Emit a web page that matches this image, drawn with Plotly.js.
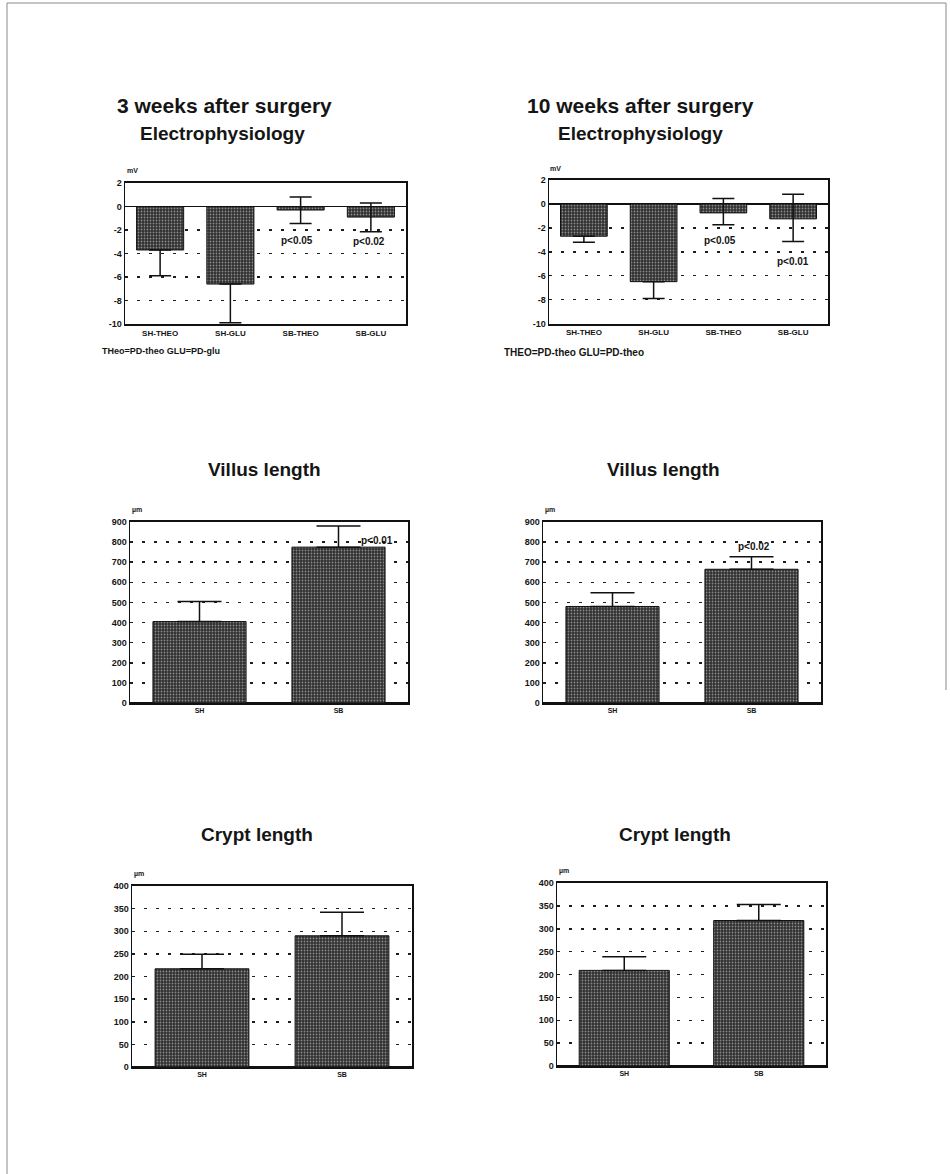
<!DOCTYPE html>
<html>
<head>
<meta charset="utf-8">
<script src="https://cdn.plot.ly/plotly-3.0.1.min.js"></script>
<style>
  html, body { margin: 0; padding: 0; background: #ffffff; }
  #chart { width: 950px; height: 1174px; }
</style>
</head>
<body>
<div id="chart"></div>
<script>
// ---- data ----
const epCategories = ['SH-THEO', 'SH-GLU', 'SB-THEO', 'SB-GLU'];
const morphCategories = ['SH', 'SB'];

// y tick values / labels for the potential difference panels (plain hyphen minus)
const epTickVals = [-10, -8, -6, -4, -2, 0, 2];
const epTickText = ['-10', '-8', '-6', '-4', '-2', '0', '2'];

// potential difference (mV), 3 weeks after surgery
const ep3Mean = [-3.7, -6.6, -0.3, -0.9];
const ep3ErrPlus = [0, 0, 1.1, 1.2];
const ep3ErrMinus = [2.2, 3.3, 1.15, 1.25];

// potential difference (mV), 10 weeks after surgery
const ep10Mean = [-2.7, -6.5, -0.75, -1.25];
const ep10ErrPlus = [0, 0, 1.2, 2.05];
const ep10ErrMinus = [0.5, 1.4, 1.0, 1.9];

// villus length (µm)
const villus3Mean = [405, 775];
const villus3Err = [100, 105];
const villus10Mean = [480, 665];
const villus10Err = [68, 62];

// crypt length (µm)
const crypt3Mean = [217, 290];
const crypt3Err = [32, 52];
const crypt10Mean = [209, 318];
const crypt10Err = [30, 35];

// ---- page geometry helpers ----
const W = 950, H = 1174;
const px = x => x / W;
const py = y => 1 - y / H;

const FONT = '"Liberation Sans", Arial, sans-serif';
const INK = '#151515';

const barMarker = {
  color: '#404040',
  line: { color: '#111', width: 1 },
  pattern: { shape: '.', fgcolor: '#8c8c8c', bgcolor: '#2f2f2f', size: 3, solidity: 0.28 }
};

function barTrace(cats, vals, plus, minus, xa, ya, cap) {
  return {
    type: 'bar', x: cats, y: vals, xaxis: xa, yaxis: ya,
    marker: barMarker,
    error_y: {
      type: 'data', symmetric: false, array: plus, arrayminus: minus,
      color: '#111', thickness: 1.5, width: cap
    },
    hoverinfo: 'x+y'
  };
}

const zeros2 = [0, 0];

const data = [
  barTrace(epCategories, ep3Mean, ep3ErrPlus, ep3ErrMinus, 'x', 'y', 11),
  barTrace(epCategories, ep10Mean, ep10ErrPlus, ep10ErrMinus, 'x2', 'y2', 11),
  barTrace(morphCategories, villus3Mean, villus3Err, zeros2, 'x3', 'y3', 22),
  barTrace(morphCategories, villus10Mean, villus10Err, zeros2, 'x4', 'y4', 22),
  barTrace(morphCategories, crypt3Mean, crypt3Err, zeros2, 'x5', 'y5', 22),
  barTrace(morphCategories, crypt10Mean, crypt10Err, zeros2, 'x6', 'y6', 22)
];

// plot areas in page pixels: [left, right, top, bottom]
const boxes = [
  [125, 406, 183, 324],
  [549, 828, 180, 323.5],
  [130, 408, 522, 703],
  [543, 821, 522, 703],
  [132, 412, 886, 1067],
  [557, 826, 883, 1066]
];

function xAxis(box, anchor, size) {
  return {
    domain: [px(box[0]), px(box[1])], anchor: anchor,
    showline: true, linecolor: '#111', linewidth: 2, mirror: true,
    showgrid: false, zeroline: false, ticks: '',
    tickfont: { family: FONT, size: size, color: INK, weight: 'bold' },
    fixedrange: true
  };
}

function yAxis(box, anchor, range, dtick, size) {
  return {
    domain: [py(box[3]), py(box[2])], anchor: anchor,
    range: range, dtick: dtick, tick0: 0,
    showline: true, linecolor: '#111', linewidth: 1.5, mirror: true,
    showgrid: true, gridcolor: '#1e1e1e', gridwidth: 1.5, griddash: '3px,9px',
    zeroline: true, zerolinecolor: '#111', zerolinewidth: 1.6,
    ticks: '', ticklen: 0,
    tickfont: { family: FONT, size: size, color: INK, weight: 'bold' },
    fixedrange: true
  };
}

function label(text, x, y, size, opts) {
  return Object.assign({
    text: text, xref: 'paper', yref: 'paper', x: px(x), y: py(y),
    xanchor: 'center', yanchor: 'middle', showarrow: false,
    font: { family: FONT, size: size, color: INK, weight: 'bold' }
  }, opts || {});
}

function pLabel(text, xa, ya, xv, yv, xshift) {
  return {
    text: text, xref: xa, yref: ya, x: xv, y: yv, xshift: xshift || 0,
    xanchor: 'center', yanchor: 'middle', showarrow: false,
    font: { family: FONT, size: 10, color: INK, weight: 'bold' }
  };
}

const annotations = [
  label('3 weeks after surgery', 224, 105, 21),
  label('Electrophysiology', 222, 134, 19),
  label('10 weeks after surgery', 640, 105, 21),
  label('Electrophysiology', 640, 134, 19),
  label('Villus length', 264, 469, 19),
  label('Villus length', 663, 469, 19),
  label('Crypt length', 257, 834, 19),
  label('Crypt length', 675, 834, 19),

  label('mV', 125, 171, 7, { xanchor: 'left' }),
  label('mV', 548, 168, 7, { xanchor: 'left' }),
  label('µm', 130, 510, 7, { xanchor: 'left' }),
  label('µm', 543, 510, 7, { xanchor: 'left' }),
  label('µm', 132, 874, 7, { xanchor: 'left' }),
  label('µm', 557, 871, 7, { xanchor: 'left' }),

  label('THeo=PD-theo GLU=PD-glu', 100, 351, 9, { xanchor: 'left' }),
  label('THEO=PD-theo GLU=PD-theo', 502, 352, 10, { xanchor: 'left' }),

  pLabel('p<0.05', 'x', 'y', 'SB-THEO', -2.9, -4),
  pLabel('p<0.02', 'x', 'y', 'SB-GLU', -2.95, -2),
  pLabel('p<0.05', 'x2', 'y2', 'SB-THEO', -3.1, -3),
  pLabel('p<0.01', 'x2', 'y2', 'SB-GLU', -4.85, 0),
  pLabel('p<0.01', 'x3', 'y3', 'SB', 810, 38),
  pLabel('p<0.02', 'x4', 'y4', 'SB', 776, 2)
];

// thin page frame
const shapes = [
  { type: 'line', xref: 'paper', yref: 'paper', x0: px(7), x1: px(7), y0: py(3), y1: py(1174), line: { color: '#8a8a8a', width: 1 } },
  { type: 'line', xref: 'paper', yref: 'paper', x0: px(7), x1: px(946), y0: py(3), y1: py(3), line: { color: '#8a8a8a', width: 1 } },
  { type: 'line', xref: 'paper', yref: 'paper', x0: px(946), x1: px(946), y0: py(3), y1: py(690), line: { color: '#8a8a8a', width: 1 } }
];

const epY = (box, anchor) => Object.assign(yAxis(box, anchor, [-10, 2], 2, 9), {
  tickmode: 'array', tickvals: epTickVals, ticktext: epTickText
});

const layout = {
  width: W, height: H,
  margin: { l: 0, r: 0, t: 0, b: 0, pad: 0 },
  paper_bgcolor: '#ffffff', plot_bgcolor: '#ffffff',
  showlegend: false, bargap: 0.33,
  font: { family: FONT, color: INK },
  xaxis: xAxis(boxes[0], 'y', 8),
  yaxis: epY(boxes[0], 'x'),
  xaxis2: xAxis(boxes[1], 'y2', 8),
  yaxis2: epY(boxes[1], 'x2'),
  xaxis3: xAxis(boxes[2], 'y3', 7),
  yaxis3: yAxis(boxes[2], 'x3', [0, 900], 100, 9),
  xaxis4: xAxis(boxes[3], 'y4', 7),
  yaxis4: yAxis(boxes[3], 'x4', [0, 900], 100, 9),
  xaxis5: xAxis(boxes[4], 'y5', 7),
  yaxis5: yAxis(boxes[4], 'x5', [0, 400], 50, 9),
  xaxis6: xAxis(boxes[5], 'y6', 7),
  yaxis6: yAxis(boxes[5], 'x6', [0, 400], 50, 9),
  annotations: annotations,
  shapes: shapes
};

Plotly.newPlot('chart', data, layout, { staticPlot: true, displayModeBar: false });
</script>
</body>
</html>
